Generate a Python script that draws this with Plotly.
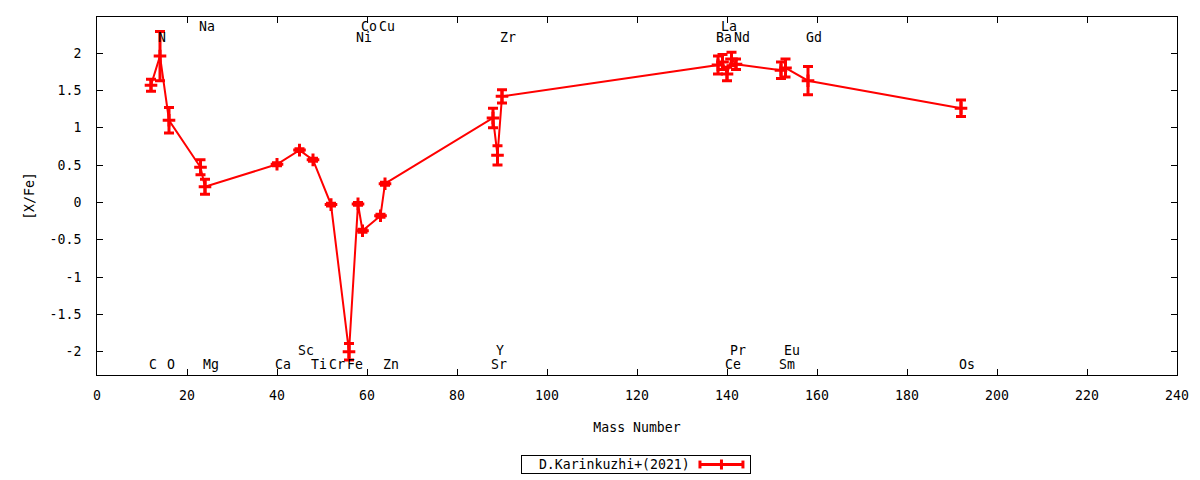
import plotly.graph_objects as go

# Abundance pattern, D.Karinkuzhi+(2021)
elements = ["C", "N", "O", "Na", "Mg", "Ca", "Sc", "Ti", "Cr", "Fe", "Ni", "Co", "Cu",
            "Zn", "Sr", "Y", "Zr", "Ba", "La", "Ce", "Pr", "Nd", "Sm", "Eu", "Gd", "Os"]
mass = [12, 14, 16, 23, 24, 40, 45, 48, 52, 56, 58, 59, 63,
        64, 88, 89, 90, 138, 139, 140, 141, 142, 152, 153, 158, 192]
xfe = [1.57, 1.96, 1.10, 0.47, 0.21, 0.51, 0.70, 0.57, -0.03, -2.00, -0.02, -0.38, -0.18,
       0.25, 1.13, 0.63, 1.42, 1.84, 1.88, 1.72, 1.92, 1.85, 1.77, 1.80, 1.63, 1.26]
err = [0.08, 0.33, 0.17, 0.10, 0.10, 0.02, 0.02, 0.02, 0.02, 0.11, 0.02, 0.02, 0.02,
       0.02, 0.13, 0.13, 0.09, 0.12, 0.10, 0.09, 0.09, 0.07, 0.11, 0.12, 0.19, 0.11]
series_name = "D.Karinkuzhi+(2021)"

# element labels: which text row they sit on
top_row = ["Na", "Co", "Cu", "La"]
upper_row = ["N", "Ni", "Zr", "Ba", "Nd", "Gd"]
lower_row = ["Sc", "Y", "Pr", "Eu"]
bottom_row = ["C", "O", "Mg", "Ca", "Ti", "Cr", "Fe", "Zn", "Sr", "Ce", "Sm", "Os"]
row_y = {"top": 2.35, "upper": 2.21, "lower": -1.98, "bottom": -2.17}

xticks = list(range(0, 241, 20))
yticks = [2, 1.5, 1, 0.5, 0, -0.5, -1, -1.5, -2]

FONT = "DejaVu Sans Mono"
FS = 13.2

fig = go.Figure()
fig.add_trace(go.Scatter(
    x=mass, y=xfe,
    mode="lines+markers",
    name=series_name,
    showlegend=False,
    line=dict(color="red", width=2),
    marker=dict(symbol="cross-thin", size=9, color="red",
                line=dict(color="red", width=3)),
    error_y=dict(type="data", array=err, color="red", thickness=3, width=5),
))

annotations = []
for name, row in [(n, "top") for n in top_row] + [(n, "upper") for n in upper_row] \
        + [(n, "lower") for n in lower_row] + [(n, "bottom") for n in bottom_row]:
    annotations.append(dict(
        x=mass[elements.index(name)], y=row_y[row], text=name,
        xref="x", yref="y", xanchor="left", yanchor="middle", xshift=-4,
        showarrow=False, font=dict(family=FONT, size=FS, color="black"),
    ))

# gnuplot-like key below the plot: text on the left, sample on the right
annotations.append(dict(
    x=0.499, y=-0.25, xref="paper", yref="paper", xanchor="center", yanchor="middle",
    text="\u00a0\u00a0" + series_name, showarrow=False, align="left", width=226, height=15,
    bordercolor="black", borderwidth=1, borderpad=1,
    font=dict(family=FONT, size=FS, color="black"),
))
ky = -0.25
kx0, kx1 = 0.5583, 0.5981
kxm = (kx0 + kx1) / 2
key_shapes = [
    dict(type="line", xref="paper", yref="paper", x0=kx0, x1=kx1, y0=ky, y1=ky,
         line=dict(color="red", width=3)),
    dict(type="line", xref="paper", yref="paper", x0=kx0, x1=kx0, y0=ky - 0.011, y1=ky + 0.011,
         line=dict(color="red", width=3)),
    dict(type="line", xref="paper", yref="paper", x0=kx1, x1=kx1, y0=ky - 0.011, y1=ky + 0.011,
         line=dict(color="red", width=3)),
    dict(type="line", xref="paper", yref="paper", x0=kxm, x1=kxm, y0=ky - 0.014, y1=ky + 0.014,
         line=dict(color="red", width=3)),
]

# the page body has an 8px margin, so the figure is shrunk to fit the 1200x480 window
fig.update_layout(
    width=1192, height=472,
    margin=dict(l=89, r=23, t=9, b=105, autoexpand=False),
    paper_bgcolor="white", plot_bgcolor="white",
    font=dict(family=FONT, size=FS, color="black"),
    annotations=annotations,
    shapes=key_shapes,
    showlegend=False,
)
fig.update_xaxes(
    range=[0, 240], tickvals=xticks, ticktext=[str(v) for v in xticks],
    ticks="inside", ticklen=6, tickcolor="black", showline=True, linecolor="black",
    linewidth=1, mirror="ticks", showgrid=False, zeroline=False,
    ticklabelstandoff=8, automargin=False, tickfont=dict(size=FS),
    title=dict(text="Mass Number", standoff=20, font=dict(size=FS)),
)
fig.update_yaxes(
    range=[-2.312, 2.483], tickvals=yticks, ticktext=[str(v) for v in yticks],
    ticks="inside", ticklen=6, tickcolor="black", showline=True, linecolor="black",
    linewidth=1, mirror="ticks", showgrid=False, zeroline=False,
    ticklabelstandoff=12, automargin=False, tickfont=dict(size=FS),
    title=dict(text="[X/Fe]", standoff=11, font=dict(size=FS)),
)

fig.write_html("out.html")
